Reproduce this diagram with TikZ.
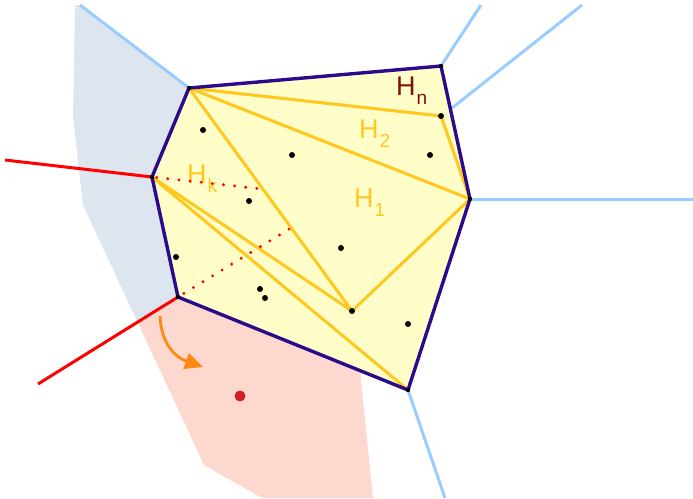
\documentclass[tikz,border=0pt]{standalone}
\usepackage{fontspec}
\setmainfont{Liberation Sans}
\usetikzlibrary{arrows.meta}
\definecolor{hullc}{RGB}{44,10,140}
\definecolor{yfill}{RGB}{255,253,200}
\definecolor{yline}{RGB}{255,200,30}
\definecolor{lblue}{RGB}{153,204,255}
\definecolor{greyreg}{RGB}{221,229,238}
\definecolor{pinkreg}{RGB}{253,216,206}
\definecolor{orng}{RGB}{255,136,17}
\definecolor{dotred}{RGB}{204,34,34}
\definecolor{hnred}{RGB}{128,16,16}
\tikzset{
  hull/.style={draw=hullc,line width=3.4pt,line join=round},
  ysplit/.style={draw=yline,line width=3pt,line cap=round},
  vor/.style={draw=lblue,line width=3pt},
  redvor/.style={draw=red,line width=3pt},
  reddots/.style={draw=red,line width=3.2pt,line cap=round,dash pattern=on 0pt off 11.2pt},
  lab/.style={inner sep=0pt,anchor=base west,font=\fontsize{27}{27}\selectfont},
  site/.style={circle,fill=black,inner sep=0pt,minimum size=6pt},
}
\newcommand{\sbs}[1]{\kern1pt\raisebox{-9.5pt}{\fontsize{19}{19}\selectfont #1}}
\begin{document}
\begin{tikzpicture}[x=1pt,y=-1pt]
\useasboundingbox (0,0) rectangle (693,498);
% hull vertices
\coordinate (A) at (189,88);
\coordinate (B) at (441,66);
\coordinate (C) at (470,199);
\coordinate (D) at (408,390);
\coordinate (E) at (178,297);
\coordinate (F) at (152,177);
\coordinate (P) at (441,116);
\coordinate (V) at (352,311);
% region boundary points
\coordinate (g1) at (75,5);
\coordinate (g2) at (80,5);
\coordinate (g3) at (73,117);
\coordinate (g4) at (83,205);
\coordinate (g5) at (137.5,322);
\coordinate (p1) at (360,371);
\coordinate (p2) at (373,498);
\coordinate (p3) at (262,498);
\coordinate (p4) at (204,465);
% voronoi free ends
\coordinate (vB) at (481,5);
\coordinate (vBC) at (452,108);
\coordinate (vBCe) at (582,5);
\coordinate (vC) at (693,199);
\coordinate (vD) at (445,498);
\coordinate (rF) at (5,160);
\coordinate (rE) at (38,384);
\coordinate (dF) at (258,188.5);
\coordinate (dE) at (290,228.5);
% regions
\fill[greyreg] (g1) -- (g2) -- (A) -- (F) -- (E) -- (g5) -- (g4) -- (g3) -- cycle;
\fill[pinkreg] (E) -- (p1) -- (p2) -- (p3) -- (p4) -- (g5) -- cycle;
\fill[yfill] (A) -- (B) -- (C) -- (D) -- (E) -- (F) -- cycle;
% voronoi edges
\draw[vor] (A) -- (g2);
\draw[vor] (B) -- (vB);
\draw[vor] (vBC) -- (vBCe);
\draw[vor] (C) -- (vC);
\draw[vor] (D) -- (vD);
\draw[redvor] (F) -- (rF);
\draw[redvor] (E) -- (rE);
% yellow triangulation
\draw[ysplit] (A) -- (P) -- (C);
\draw[ysplit] (A) -- (C);
\draw[ysplit] (A) -- (V) -- (C);
\draw[ysplit] (F) -- (V);
\draw[ysplit] (F) -- (D);
% labels
\node[lab,text=hnred] (Hn) at (396,95) {H\sbs{n}};
\node[lab,text=yline] (H2) at (359,138) {H\sbs{2}};
\node[lab,text=yline] (H1) at (354,207) {H\sbs{1}};
\node[lab,text=yline] (Hk) at (187,183) {H\sbs{k}};
% dotted red
\draw[reddots,dash phase=6.5pt] (F) -- (dF);
\draw[reddots,dash phase=4.3pt] (E) -- (dE);
% hull
\draw[hull] (A) -- (B) -- (C) -- (D) -- (E) -- (F) -- cycle;
% sites
\foreach \n/\p in {s1/{(203,130)},s2/{(292,155)},s3/{(430,155)},s4/{(249,201)},s5/{(341,248)},s6/{(176,257)},s7/{(260,289)},s8/{(265,298)},s9/{(408,324)}}
  \node[site] (\n) at \p {};
\node[site] (nP) at (P) {};
\node[site] (nV) at (V) {};
\foreach \v in {A,B,C,D,E,F}
  \fill[black] (\v) circle (2.2);
% orange arrow
\coordinate (o1) at (160,316);
\coordinate (o2) at (203,367);
\draw[orng,line width=2.8pt,-{Triangle[length=18pt,width=16pt]}] (o1) .. controls (161,340) and (172,356) .. (o2);
% red site
\node[circle,fill=dotred,inner sep=0pt,minimum size=11pt] (rs) at (240,396) {};
\end{tikzpicture}
\end{document}
